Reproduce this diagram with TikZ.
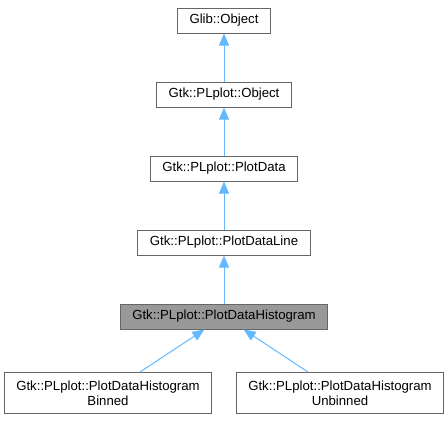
\documentclass[tikz,border=0pt]{standalone}
\usepackage{fontspec}
\setmainfont{Liberation Sans}
\usepackage{tikz}
\usetikzlibrary{arrows.meta,positioning}

\definecolor{edgeblue}{HTML}{63B8FF}
\definecolor{boxline}{HTML}{666666}
\definecolor{boxfill}{HTML}{999999}

\tikzset{
  cls/.style={draw=boxline, line width=0.75pt, fill=white, inner xsep=9pt,
              minimum height=18.75pt, align=center,
              font=\fontsize{9.9}{11.6}\selectfont},
  current/.style={cls, fill=boxfill},
  inh/.style={draw=edgeblue, line width=0.75pt,
              -{Triangle[length=9pt,width=7.5pt]}}
}

\begin{document}
\begin{tikzpicture}[node distance=36pt]

\useasboundingbox (0,0) rectangle (336pt,-315pt);

\node[cls] (glib) at (168pt,-15.4pt) {Glib::Object};

\node[cls, below = of glib] (object) {Gtk::PLplot::Object};

\draw [inh] (object) to (glib);

\node[cls, below = of object] (plotdata) {Gtk::PLplot::PlotData};

\draw [inh] (plotdata) to (object);

\node[cls, below = of plotdata] (line) {Gtk::PLplot::PlotDataLine};

\draw [inh] (line) to (plotdata);

\node[current, below = of line] (hist) {Gtk::PLplot::PlotDataHistogram};

\draw [inh] (hist) to (line);

\node[cls, minimum height=30.75pt, below = 32pt of hist, xshift=-87pt] (binned) {Gtk::PLplot::PlotDataHistogram\\Binned};
\node[cls, minimum height=30.75pt, below = 32pt of hist, xshift=87pt] (unbinned) {Gtk::PLplot::PlotDataHistogram\\Unbinned};

\draw [inh] (binned) to (hist);
\draw [inh] (unbinned) to (hist);

\end{tikzpicture}
\end{document}
